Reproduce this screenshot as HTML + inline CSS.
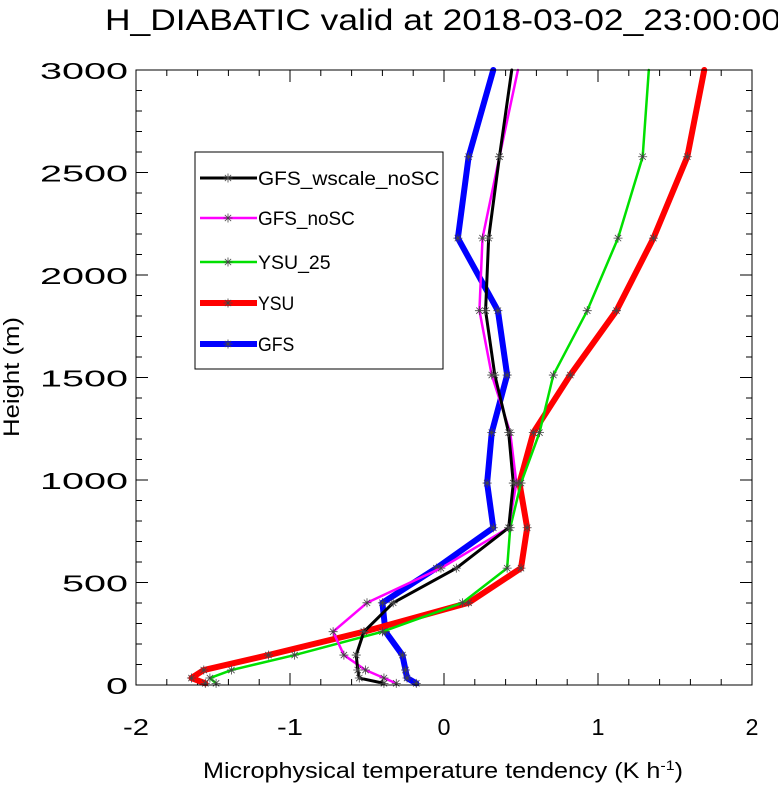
<!DOCTYPE html>
<html><head><meta charset="utf-8"><style>
body{margin:0;background:#fff;}
svg text{font-family:"Liberation Sans",sans-serif;}
</style></head><body>
<svg id="chart" width="778" height="784" xmlns="http://www.w3.org/2000/svg">
<text x="105" y="30" font-size="30" textLength="676" lengthAdjust="spacingAndGlyphs">H_DIABATIC valid at 2018-03-02_23:00:00</text>
<g id="axes"></g>
<g id="series"></g>
<rect x="136" y="70" width="616" height="615" fill="none" stroke="#000" stroke-width="1"/>
<text x="203" y="778" font-size="22" textLength="480" lengthAdjust="spacingAndGlyphs">Microphysical temperature tendency (K h<tspan baseline-shift="super" font-size="14">-1</tspan>)</text>
<text transform="translate(19,377) rotate(-90)" font-size="22" text-anchor="middle" textLength="120" lengthAdjust="spacingAndGlyphs">Height (m)</text>
<g id="legend"></g>
</svg>
<script>
const heights=[8,34,73,146,260,401,570,767,985,1231,1512,1826,2180,2577,3000];
const gfsWscaleNoSC=[-0.39,-0.55,-0.56,-0.57,-0.52,-0.33,0.08,0.42,0.45,0.42,0.33,0.27,0.29,0.36,0.44];
const gfsNoSC=[-0.31,-0.39,-0.51,-0.65,-0.72,-0.50,-0.02,0.42,0.47,0.43,0.31,0.23,0.25,0.36,0.48];
const ysu25=[-1.48,-1.52,-1.38,-0.97,-0.40,0.12,0.41,0.43,0.50,0.62,0.71,0.93,1.13,1.29,1.33];
const ysu=[-1.55,-1.64,-1.56,-1.14,-0.52,0.16,0.50,0.54,0.49,0.58,0.82,1.12,1.36,1.58,1.69];
const gfs=[-0.18,-0.24,-0.25,-0.27,-0.38,-0.40,-0.05,0.32,0.28,0.31,0.41,0.35,0.09,0.16,0.32];
const xTicks=[-2,-1,0,1,2];
const yTicks=[0,500,1000,1500,2000,2500,3000];
const NS="http://www.w3.org/2000/svg";
const X0=136,X1=752,Y0=685,Y1=70;
const sx=v=>X0+(v+2)/4*(X1-X0);
const sy=v=>Y0-v/3000*(Y0-Y1);
function mk(tag,at,parent){const e=document.createElementNS(NS,tag);for(const k in at)e.setAttribute(k,at[k]);parent.appendChild(e);return e;}
const axes=document.getElementById('axes');
for(let i=0;i<=20;i++){const v=-2+i*0.2;const x=sx(v);const L=(i%5==0)?12:6;
 const t1=mk('line',{x1:x,y1:Y0,x2:x,y2:Y0-L,stroke:'#000','stroke-width':1},axes);
 
 const t2=mk('line',{x1:x,y1:Y1,x2:x,y2:Y1+L,stroke:'#000','stroke-width':1},axes);
 }
xTicks.forEach(v=>{const s=String(v);const t=mk('text',{x:sx(v),y:Y0+50,'font-size':23,'text-anchor':'middle',textLength:s.length*13,lengthAdjust:'spacingAndGlyphs'},axes);t.textContent=s;
 });
for(let i=0;i<=30;i++){const v=i*100;const y=sy(v);const L=(i%5==0)?12:6;
 const t1=mk('line',{x1:X0,y1:y,x2:X0+L,y2:y,stroke:'#000','stroke-width':1},axes);
 
 const t2=mk('line',{x1:X1,y1:y,x2:X1-L,y2:y,stroke:'#000','stroke-width':1},axes);
 }
yTicks.forEach(v=>{const s=String(v);const t=mk('text',{x:X0-8,y:sy(v)+9,'font-size':23,'text-anchor':'end',textLength:s.length*22,lengthAdjust:'spacingAndGlyphs'},axes);t.textContent=s;
 });
const series=[
 {name:'GFS',vals:gfs,color:'#0000ff',w:6},
 {name:'YSU',vals:ysu,color:'#ff0000',w:6},
 {name:'YSU_25',vals:ysu25,color:'#00e000',w:2.5},
 {name:'GFS_noSC',vals:gfsNoSC,color:'#ff00ff',w:2.5},
 {name:'GFS_wscale_noSC',vals:gfsWscaleNoSC,color:'#000000',w:3}];
const sg=document.getElementById('series');
function star(x,y,g){const r=4.5;const p=`M${x-r},${y}L${x+r},${y}M${x-r*0.7},${y-r*0.7}L${x+r*0.7},${y+r*0.7}M${x-r*0.7},${y+r*0.7}L${x+r*0.7},${y-r*0.7}M${x},${y-r}L${x},${y+r}`;
 const e=mk('path',{d:p,stroke:'#444','stroke-width':0.8,fill:'none'},g);
 }
series.forEach(s=>{const g=mk('g',{},sg);
 
 const pts=s.vals.map((v,i)=>sx(v)+','+sy(heights[i])).join(' ');
 const l=mk('polyline',{points:pts,fill:'none',stroke:s.color,'stroke-width':s.w,'stroke-linejoin':'round','stroke-linecap':'round'},g);
 
 s.vals.forEach((v,i)=>{if(i<s.vals.length-1)star(sx(v),sy(heights[i]),g);});});
const lg=document.getElementById('legend');
const box=mk('rect',{x:195,y:152,width:248,height:217,fill:'#fff',stroke:'#000','stroke-width':1},lg);

const order=[4,3,2,1,0];const ly=[178,218,262,303,344];
order.forEach((si,k)=>{const s=series[si];const g=mk('g',{},lg);
 
 mk('line',{x1:200,y1:ly[k],x2:257,y2:ly[k],stroke:s.color,'stroke-width':s.w},g);
 star(228,ly[k],g);
 const t=mk('text',{x:258,y:ly[k]+7,'font-size':19,textLength:s.name.length*12.1,lengthAdjust:'spacingAndGlyphs'},g);t.textContent=s.name;});
</script>
</body></html>
